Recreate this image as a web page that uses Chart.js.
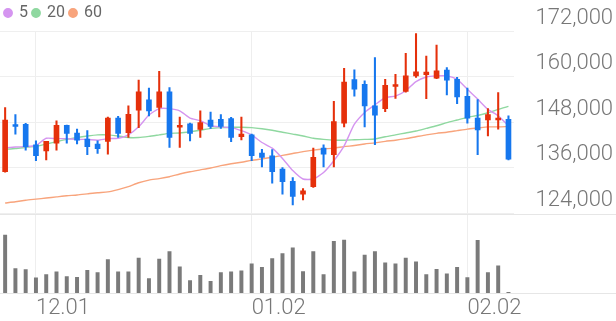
<!DOCTYPE html>
<html><head><meta charset="utf-8">
<script src="https://cdn.jsdelivr.net/npm/chart.js@4"></script>
<style>html,body{margin:0;padding:0;background:#fff;overflow:hidden}#wrap{width:616px;height:321px;position:relative}</style>
</head><body><div id="wrap"><canvas id="c"></canvas></div>
<script>
const dates = ['11.28','11.29','11.30','12.01','12.02','12.05','12.06','12.07','12.08','12.09',
  '12.12','12.13','12.14','12.15','12.16','12.19','12.20','12.21','12.22','12.23',
  '12.26','12.27','12.28','12.29','01.02','01.03','01.04','01.05','01.06','01.09',
  '01.10','01.11','01.12','01.13','01.16','01.17','01.18','01.19','01.20','01.25',
  '01.26','01.27','01.30','01.31','02.01','02.02','02.03','02.06','02.07','02.08'];
const openP = [135000,147200,147500,142100,140500,142500,147200,145200,143600,142300,
  143000,149100,145300,151200,153900,151900,156000,146700,147600,146100,
  148600,148800,149000,144200,144700,139900,139200,135700,132500,129100,
  131100,141200,139500,147800,159200,158000,152300,151600,157400,156100,
  160200,160500,159600,161700,159300,154800,149100,148600,148600,148800];
const highP = [151900,150000,147700,143100,143000,148400,147300,146200,145800,143100,
  149400,149600,152300,159100,157000,161400,157100,149400,147800,151000,
  150700,150000,149300,149400,144900,140900,140800,136100,133500,130600,
  141200,142100,153500,162200,161800,158900,165000,159300,160600,166100,
  171300,165400,168300,162400,159800,157000,154000,151600,155800,149700];
const lowP = [134900,144900,140700,137900,138100,140700,142500,142300,139500,139800,
  139600,144000,144000,146600,149700,149400,141400,141400,143100,144000,
  146400,146400,142900,143400,137900,136300,132000,129100,126300,127600,
  130900,136300,136300,146800,154900,146800,142100,150800,154300,155900,
  159800,154200,159500,155200,152900,147800,139500,144400,146200,138100];
const closeP = [148600,146900,141600,139200,143000,147200,145100,143300,141600,141100,
  149100,145100,150100,156000,151000,156000,144000,147200,145100,147900,
  146900,146900,144000,144900,139200,138800,135000,132400,128500,130000,
  138800,139600,148200,158600,156700,152300,149900,157700,157800,160200,
  161300,161200,161500,159100,154700,149100,146000,150000,149000,138300];
const volume = [173000,73000,70000,45000,55000,63000,49000,47000,68000,61000,
  100000,63000,63000,104000,43000,101000,124000,78000,37000,53000,
  35000,61000,63000,66000,87000,77000,103000,118000,135000,64000,
  124000,55000,154000,158000,63000,113000,124000,90000,87000,104000,
  93000,55000,71000,57000,77000,46000,157000,61000,81000,2000];
const ma5 = [141300,141500,141600,141900,143800,143700,143700,143500,143500,143300,
  143700,143800,144700,146800,149900,151600,151600,151000,149100,148400,
  147100,146800,146600,145800,144700,142700,141200,138500,135300,133100,
  133100,134800,137900,141800,147500,150600,152600,154500,154900,156300,
  158700,159900,160200,160200,159300,156700,154100,151400,149700,147100];
const ma20 = [140900,141100,141400,141700,142300,142900,143500,144000,144400,144700,
  144700,144400,144000,144000,144300,144700,145100,145200,145500,145900,
  146400,146600,146700,146700,146600,146300,145900,145400,144900,144400,
  143800,143500,143300,143300,143400,143500,143600,144200,144700,145200,
  145700,146400,147100,147900,148600,149300,149800,150500,151400,152200];
const ma60 = [126800,127100,127500,127800,128100,128400,128700,128900,129200,129500,
  129700,130300,131100,132100,132800,133200,133700,134400,135000,135500,
  136000,136600,137100,137500,138000,138400,138800,139300,139800,140300,
  140700,141000,141200,141600,141900,142300,142600,143000,143300,143700,
  144200,144700,145100,145400,145800,146200,146500,146800,146800,146900];
const priceTicks = [124000,136000,148000,160000,172000];
const xTickIdx = [3,24,45];
const maNames = ['5','20','60'];

const RED = '#e5300b', BLUE = '#1677ee', GREY = '#7a7a7a';
const upColor = (c) => { const i = c.dataIndex; return closeP[i] >= openP[i] ? RED : BLUE; };

const sepPlugin = {
  id: 'sep',
  beforeDatasetsDraw(chart) {
    const ctx = chart.ctx;
    ctx.save();
    ctx.strokeStyle = '#e6e6e6';
    ctx.lineWidth = 1;
    [chart.scales.y.bottom, chart.scales.yv.bottom].forEach(yy => {
      ctx.beginPath();
      ctx.moveTo(0, Math.round(yy) + 0.5);
      ctx.lineTo(chart.width, Math.round(yy) + 0.5);
      ctx.stroke();
    });
    ctx.restore();
  }
};

new Chart(document.getElementById('c'), {
  data: {
    labels: dates,
    datasets: [
      { type: 'bar', label: 'wick', data: dates.map((d, i) => [lowP[i], highP[i]]), yAxisID: 'y',
        backgroundColor: upColor, barThickness: 1.4, grouped: false, order: 2 },
      { type: 'bar', label: 'body', data: dates.map((d, i) => [openP[i], closeP[i]]), yAxisID: 'y',
        backgroundColor: upColor, barThickness: 5, minBarLength: 2, grouped: false, order: 1 },
      { type: 'bar', label: 'vol', data: volume, yAxisID: 'yv',
        backgroundColor: GREY, barThickness: 3.3, grouped: false, order: 1 },
      { type: 'line', label: maNames[0], data: ma5, yAxisID: 'y', borderColor: '#d595f0', backgroundColor: '#d595f0',
        borderWidth: 1.4, pointRadius: 0, tension: 0.2, order: 5 },
      { type: 'line', label: maNames[1], data: ma20, yAxisID: 'y', borderColor: '#8fd8a0', backgroundColor: '#8fd8a0',
        borderWidth: 1.4, pointRadius: 0, tension: 0.2, order: 5 },
      { type: 'line', label: maNames[2], data: ma60, yAxisID: 'y', borderColor: '#f8a47c', backgroundColor: '#f8a47c',
        borderWidth: 1.4, pointRadius: 0, tension: 0.2, order: 5 }
    ]
  },
  options: {
    responsive: true, maintainAspectRatio: false, animation: false,
    layout: { padding: 0 },
    plugins: {
      tooltip: { enabled: false },
      legend: {
        position: 'top', align: 'start',
        labels: {
          filter: (item) => item.datasetIndex >= 3,
          usePointStyle: true, pointStyle: 'circle', boxWidth: 6, boxHeight: 6, padding: 5,
          color: '#666', font: { family: 'Roboto', size: 16 }
        }
      }
    },
    scales: {
      x: {
        type: 'category', offset: true,
        grid: { offset: false, color: '#eeeeee', drawTicks: false },
        border: { display: false },
        ticks: {
          autoSkip: false, maxRotation: 0, align: 'start', padding: 2,
          color: '#777', font: { family: 'Roboto', size: 22, weight: 300 },
          callback: (v, i) => xTickIdx.includes(i) ? dates[i] : null
        },
        afterFit: (s) => { s.height = 28; }
      },
      y: {
        position: 'right', stack: 'p', stackWeight: 2.3,
        min: priceTicks[0], max: priceTicks[priceTicks.length - 1],
        afterBuildTicks: (s) => { s.ticks = priceTicks.map(v => ({ value: v })); },
        grid: { color: '#efefef', drawTicks: true, tickLength: 22, tickColor: 'rgba(0,0,0,0)' },
        border: { display: false },
        ticks: {
          autoSkip: false, padding: 0, labelOffset: -13, color: '#777',
          font: { family: 'Roboto', size: 22, weight: 300 },
          callback: (v) => Number(v).toLocaleString('en-US')
        },
        afterFit: (s) => { s.width = 102.4; }
      },
      yv: {
        position: 'right', stack: 'p', stackWeight: 1,
        min: 0, max: 237000,
        grid: { display: false }, border: { display: false },
        ticks: { display: false },
        afterFit: (s) => { s.width = 102.4; }
      }
    }
  },
  plugins: [sepPlugin]
});
</script>
</body></html>
